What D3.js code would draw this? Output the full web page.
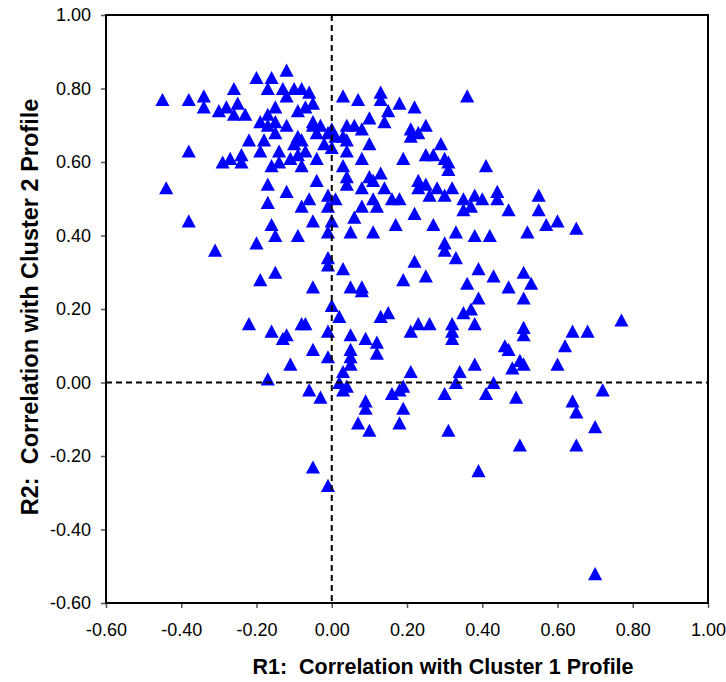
<!DOCTYPE html>
<html>
<head>
<meta charset="utf-8">
<script src="https://cdn.jsdelivr.net/npm/d3@7"></script>
<style>
  body { margin: 0; background: #fff; }
  text { font-family: "Liberation Sans", Arial, Helvetica, sans-serif; }
</style>
</head>
<body>
<svg id="chart" width="726" height="682"></svg>
<script>
// R1 (x) and R2 (y) correlations, paired by index
const r1 = [
  -0.45, -0.38, -0.34, -0.34, -0.30, -0.28, -0.26, -0.25, -0.26, -0.23,
  -0.20, -0.16, -0.17, -0.12, -0.13, -0.12, -0.10, -0.08, -0.06, -0.05,
  -0.09, -0.07, -0.15, -0.17, -0.19, -0.17, -0.15, -0.12, -0.15, -0.05,
  -0.05, -0.03, -0.01, 0.00, -0.04, -0.09, -0.08, -0.10, -0.18, -0.22,
  -0.19, -0.38, -0.29, -0.27, -0.24, -0.24, -0.16, -0.14, -0.14, -0.11,
  -0.09, -0.08, -0.07, -0.04, -0.02, 0.00, -0.17, -0.12, -0.04, -0.44,
  -0.17, -0.08, -0.06, -0.01, -0.01, 0.01, -0.38, -0.16, -0.05, 0.00,
  -0.31, -0.20, -0.15, -0.09, -0.01, -0.01, -0.01, -0.15, -0.19, -0.05,
  0.00,
  0.03, 0.07, 0.13, 0.13, 0.18, 0.22, 0.36, 0.15, 0.14, 0.10,
  0.04, 0.06, 0.08, 0.01, 0.03, 0.04, 0.10, 0.21, 0.23, 0.21,
  0.25, 0.29, 0.25, 0.27, 0.30, 0.31, 0.31, 0.19, 0.41, 0.04,
  0.08, 0.03, 0.04, 0.04, 0.10, 0.11, 0.13, 0.08, 0.14, 0.23,
  0.23, 0.25, 0.28, 0.32, 0.30, 0.26, 0.35, 0.38, 0.40, 0.44,
  0.44, 0.16, 0.18, 0.11,
  0.08, 0.12, 0.35, 0.37, 0.47, 0.06, 0.05, 0.11, 0.17, 0.22,
  0.27, 0.33, 0.30, 0.30, 0.33, 0.38, 0.42, 0.52, 0.03, 0.22,
  0.25, 0.19, 0.05, 0.08, 0.08, 0.36, 0.39, 0.43, 0.47, 0.51,
  0.39, 0.35, 0.51,
  0.55, 0.55, 0.57, 0.60, 0.65, 0.53,
  0.02, 0.13, 0.15, -0.22, -0.16, -0.13, -0.12, -0.08, -0.07, -0.01,
  0.05, 0.09, 0.12, 0.12, 0.21, 0.23, -0.05, -0.01, 0.05, 0.05,
  0.05, -0.11, 0.03, -0.17, 0.02, 0.03, 0.04, -0.06, -0.03, 0.09,
  0.09, 0.07, 0.10, 0.16, 0.18, 0.19, 0.21, 0.19, 0.18,
  0.37, 0.26, 0.32, 0.32, 0.32, 0.38, 0.51, 0.51, 0.64, 0.68,
  0.77, 0.46, 0.47, 0.62, 0.50, 0.51, 0.48, 0.60, 0.34, 0.33,
  0.38, 0.43, 0.30, 0.41, 0.49, 0.72, 0.64, 0.65, 0.31, 0.70,
  0.50, 0.65,
  -0.05, -0.01, 0.39, 0.70
];
const r2 = [
  0.77, 0.77, 0.78, 0.75, 0.74, 0.75, 0.80, 0.76, 0.73, 0.73,
  0.83, 0.83, 0.80, 0.85, 0.80, 0.78, 0.80, 0.80, 0.79, 0.76,
  0.74, 0.75, 0.75, 0.73, 0.71, 0.70, 0.71, 0.70, 0.68, 0.71,
  0.70, 0.70, 0.68, 0.69, 0.68, 0.67, 0.66, 0.65, 0.66, 0.66,
  0.63, 0.63, 0.60, 0.61, 0.62, 0.60, 0.59, 0.63, 0.60, 0.61,
  0.62, 0.59, 0.63, 0.61, 0.65, 0.64, 0.54, 0.52, 0.55, 0.53,
  0.49, 0.48, 0.50, 0.51, 0.48, 0.50, 0.44, 0.43, 0.44, 0.44,
  0.36, 0.38, 0.40, 0.40, 0.41, 0.34, 0.32, 0.30, 0.28, 0.26,
  0.21,
  0.78, 0.77, 0.79, 0.77, 0.76, 0.75, 0.78, 0.74, 0.71, 0.72,
  0.70, 0.70, 0.69, 0.67, 0.67, 0.66, 0.65, 0.69, 0.68, 0.67,
  0.70, 0.65, 0.62, 0.62, 0.61, 0.60, 0.58, 0.61, 0.59, 0.63,
  0.61, 0.59, 0.56, 0.54, 0.56, 0.55, 0.57, 0.53, 0.53, 0.55,
  0.53, 0.54, 0.53, 0.53, 0.51, 0.51, 0.50, 0.51, 0.50, 0.52,
  0.50, 0.50, 0.50, 0.50,
  0.48, 0.48, 0.47, 0.48, 0.47, 0.45, 0.41, 0.41, 0.43, 0.46,
  0.43, 0.41, 0.38, 0.36, 0.34, 0.40, 0.40, 0.41, 0.31, 0.33,
  0.29, 0.28, 0.26, 0.25, 0.26, 0.27, 0.31, 0.29, 0.26, 0.30,
  0.23, 0.19, 0.23,
  0.51, 0.47, 0.43, 0.44, 0.42, 0.27,
  0.18, 0.18, 0.19, 0.16, 0.14, 0.12, 0.13, 0.16, 0.16, 0.14,
  0.13, 0.12, 0.11, 0.08, 0.14, 0.16, 0.09, 0.07, 0.09, 0.07,
  0.05, 0.05, 0.03, 0.01, 0.00, -0.02, -0.01, -0.02, -0.04, -0.05,
  -0.07, -0.11, -0.13, -0.03, -0.02, -0.01, 0.03, -0.07, -0.11,
  0.20, 0.16, 0.16, 0.14, 0.12, 0.16, 0.15, 0.13, 0.14, 0.14,
  0.17, 0.10, 0.09, 0.10, 0.06, 0.05, 0.04, 0.05, 0.03, 0.00,
  0.05, 0.00, -0.03, -0.03, -0.04, -0.02, -0.05, -0.08, -0.13, -0.12,
  -0.17, -0.17,
  -0.23, -0.28, -0.24, -0.52
];

const xTicks = [-0.6, -0.4, -0.2, 0, 0.2, 0.4, 0.6, 0.8, 1.0];
const yTicks = [-0.6, -0.4, -0.2, 0, 0.2, 0.4, 0.6, 0.8, 1.0];
const xTitle = "R1:  Correlation with Cluster 1 Profile";
const yTitle = "R2:  Correlation with Cluster 2 Profile";

const margin = { top: 15, right: 18, bottom: 79, left: 106 };
const width = 726 - margin.left - margin.right;
const height = 682 - margin.top - margin.bottom;

const svg = d3.select("#chart");
const g = svg.append("g")
  .attr("transform", `translate(${margin.left},${margin.top})`);

const x = d3.scaleLinear().domain([-0.6, 1.0]).range([0, width]);
const y = d3.scaleLinear().domain([-0.6, 1.0]).range([height, 0]);

const fmt = d => d.toFixed(2);

// axes
const xAxis = g.append("g")
  .attr("transform", `translate(0,${height})`)
  .call(d3.axisBottom(x).tickValues(xTicks).tickFormat(fmt).tickSize(5).tickPadding(15));
const yAxis = g.append("g")
  .call(d3.axisLeft(y).tickValues(yTicks).tickFormat(fmt).tickSize(5).tickPadding(10));

[xAxis, yAxis].forEach(a => {
  a.select(".domain").remove();
  a.selectAll(".tick line").attr("stroke", "#555").attr("stroke-width", 1.5);
  a.selectAll(".tick text")
    .attr("fill", "#000")
    .style("font-size", "18px")
    .style("font-family", '"Liberation Sans", Arial, sans-serif');
});

// triangle marker centred on its bounding box
const tri = {
  draw(ctx, size) {
    const w = Math.sqrt(size) * 1.04;
    const h = w * 0.93;
    ctx.moveTo(0, -h / 2);
    ctx.lineTo(w / 2, h / 2);
    ctx.lineTo(-w / 2, h / 2);
    ctx.closePath();
  }
};
const marker = d3.symbol().type(tri).size(185);

g.selectAll(".pt")
  .data(r1.map((v, i) => ({ r1: v, r2: r2[i] })))
  .join("path")
  .attr("class", "pt")
  .attr("d", marker)
  .attr("transform", d => `translate(${x(d.r1)},${y(d.r2)})`)
  .attr("fill", "#0000ff");

// dashed zero lines
g.append("line")
  .attr("x1", x(0)).attr("x2", x(0))
  .attr("y1", 0).attr("y2", height)
  .attr("stroke", "#000").attr("stroke-width", 2)
  .attr("stroke-dasharray", "6,4");
g.append("line")
  .attr("x1", 0).attr("x2", width)
  .attr("y1", y(0)).attr("y2", y(0))
  .attr("stroke", "#000").attr("stroke-width", 2)
  .attr("stroke-dasharray", "6,4");

// plot frame
g.append("rect")
  .attr("width", width).attr("height", height)
  .attr("fill", "none").attr("stroke", "#000").attr("stroke-width", 2);

// axis titles
svg.append("text")
  .attr("x", 443).attr("y", 674)
  .attr("text-anchor", "middle")
  .style("white-space", "pre")
  .style("font-size", "21.5px").style("font-weight", "bold")
  .text(xTitle);

svg.append("text")
  .attr("transform", "translate(38,307) rotate(-90)")
  .attr("text-anchor", "middle")
  .style("white-space", "pre")
  .style("font-size", "23.5px").style("font-weight", "bold")
  .text(yTitle);
</script>
</body>
</html>
